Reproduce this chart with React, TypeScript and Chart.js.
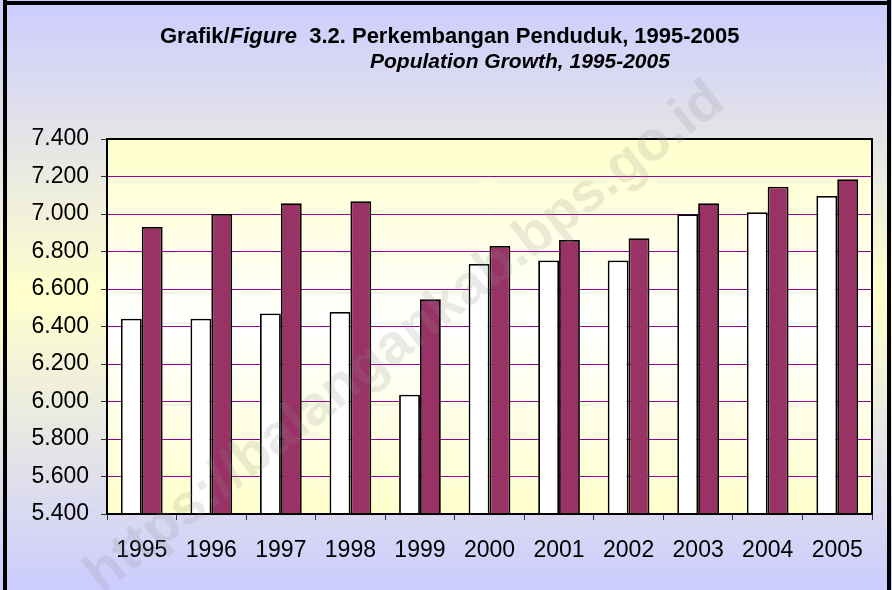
import React, { useEffect, useRef } from 'react';
import { Chart, registerables } from 'chart.js';

Chart.register(...registerables);

const years = ['1995', '1996', '1997', '1998', '1999', '2000', '2001', '2002', '2003', '2004', '2005'];
const seriesWhite = [6441, 6441, 6469, 6478, 6036, 6734, 6752, 6752, 6999, 7009, 7096];
const seriesMaroon = [6931, 7000, 7057, 7068, 6546, 6830, 6862, 6871, 7057, 7146, 7185];
const yMin = 5400;
const yMax = 7400;
const yStep = 200;

const titleLine1 = [
  { text: 'Grafik/', italic: false },
  { text: 'Figure', italic: true },
  { text: '  3.2. Perkembangan Penduduk, 1995-2005', italic: false },
];
const titleLine2 = 'Population Growth, 1995-2005';
const watermarkText = 'https://balangankab.bps.go.id';

const FONT = '"Liberation Sans", Arial, sans-serif';

function formatThousands(v: number): string {
  const s = Math.round(v).toString();
  return s.replace(/\B(?=(\d{3})+(?!\d))/g, '.');
}

const decorPlugin = {
  id: 'decor',
  beforeDraw(chart: any) {
    const { ctx, width, height, chartArea: ca } = chart;
    ctx.save();
    const g = ctx.createLinearGradient(0, 0, 0, height);
    g.addColorStop(0, '#CCCCFF');
    g.addColorStop(0.5, '#FFFFCC');
    g.addColorStop(1, '#CCCCFF');
    ctx.fillStyle = g;
    ctx.fillRect(0, 0, width, height);

    const pg = ctx.createLinearGradient(0, ca.top, 0, ca.bottom);
    pg.addColorStop(0, '#FFFFCC');
    pg.addColorStop(0.5, '#FFFFFF');
    pg.addColorStop(1, '#FFFFCC');
    ctx.fillStyle = pg;
    ctx.fillRect(ca.left, ca.top, ca.right - ca.left, ca.bottom - ca.top);

    // outer frame
    ctx.fillStyle = '#000';
    ctx.fillRect(3, 0, 4, height);
    ctx.fillRect(3, 1, 888, 4);
    ctx.fillRect(887, 0, 4, height);

    // title
    ctx.fillStyle = '#000';
    ctx.textBaseline = 'alphabetic';
    ctx.textAlign = 'left';
    let x = 160;
    for (const seg of titleLine1) {
      ctx.font = `${seg.italic ? 'italic ' : ''}bold 22px ${FONT}`;
      ctx.fillText(seg.text, x, 43);
      x += ctx.measureText(seg.text).width;
    }
    ctx.font = `italic bold 21px ${FONT}`;
    ctx.fillText(titleLine2, 370, 68);
    ctx.restore();
  },
  afterDatasetsDraw(chart: any) {
    const { ctx, chartArea: ca } = chart;
    ctx.save();
    ctx.strokeStyle = '#000';
    ctx.lineWidth = 2;
    ctx.strokeRect(ca.left, ca.top, ca.right - ca.left, ca.bottom - ca.top);

    // watermark
    ctx.translate(405, 338);
    ctx.rotate(-38 * Math.PI / 180);
    ctx.font = `bold 56px ${FONT}`;
    ctx.textAlign = 'center';
    ctx.textBaseline = 'middle';
    ctx.fillStyle = 'rgba(140,140,140,0.18)';
    ctx.fillText(watermarkText, 0, 0);
    ctx.restore();
  },
};

export default function App() {
  const canvasRef = useRef<HTMLCanvasElement | null>(null);

  useEffect(() => {
    if (!canvasRef.current) return;
    const chart = new Chart(canvasRef.current, {
      type: 'bar',
      data: {
        labels: years,
        datasets: [
          {
            label: 'Seri 1',
            data: seriesWhite,
            backgroundColor: '#FFFFFF',
            borderColor: '#000000',
            borderWidth: 1.8,
            borderSkipped: 'bottom',
          },
          {
            label: 'Seri 2',
            data: seriesMaroon,
            backgroundColor: '#993366',
            borderColor: '#000000',
            borderWidth: 1.8,
            borderSkipped: 'bottom',
          },
        ],
      },
      options: {
        responsive: false,
        animation: false,
        layout: { padding: { left: 0, right: 20, top: 139, bottom: 0 } },
        datasets: { bar: { barPercentage: 1, categoryPercentage: 0.6 } },
        plugins: {
          legend: { display: false },
          title: { display: false },
          tooltip: { enabled: false },
        },
        scales: {
          x: {
            offset: true,
            grid: {
              display: true,
              drawOnChartArea: false,
              drawTicks: true,
              tickLength: 6,
              color: '#333333',
              offset: true,
            },
            border: { display: false },
            ticks: {
              color: '#000',
              font: { family: FONT, size: 23 },
              padding: 17,
              maxRotation: 0,
              autoSkip: false,
            },
            afterFit: (s: any) => { s.height = 76; },
          },
          y: {
            min: yMin,
            max: yMax,
            grid: {
              color: '#990099',
              tickColor: '#333333',
              tickLength: 6,
              lineWidth: 1,
            },
            border: { display: false },
            ticks: {
              stepSize: yStep,
              color: '#000',
              font: { family: FONT, size: 23 },
              padding: 12,
              callback: (v: any) => formatThousands(Number(v)),
            },
            afterFit: (s: any) => { s.width = 107; },
          },
        },
      },
      plugins: [decorPlugin],
    });
    return () => chart.destroy();
  }, []);

  return (
    <div style={{ position: 'absolute', left: 0, top: 0, width: 892, height: 590 }}>
      <canvas ref={canvasRef} width={892} height={590} style={{ display: 'block' }} />
    </div>
  );
}
